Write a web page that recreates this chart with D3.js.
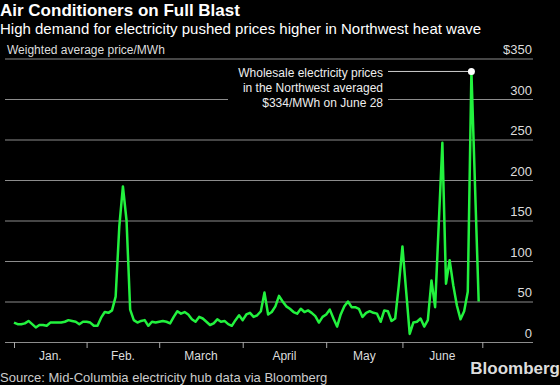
<!DOCTYPE html>
<html>
<head>
<meta charset="utf-8">
<script src="https://cdn.jsdelivr.net/npm/d3@7"></script>
<style>
  body { margin: 0; background: #000; }
  svg { display: block; font-family: "Liberation Sans", Arial, sans-serif; }
</style>
</head>
<body>
<div id="chart"></div>
<script>
// Mid-C weighted average price, $/MWh, one value per trading day (Jan - June)
var prices = [
  // Jan.
  24, 22, 22, 23, 26, 22, 18, 21, 21, 20, 24, 24, 24, 24, 25, 27, 26, 25, 22, 25,
  // Feb.
  25, 24, 20, 20, 30, 37, 36, 39, 56, 142, 192, 150, 40, 27, 24, 26, 27, 20, 25, 24,
  // March
  25, 26, 25, 23, 31, 38, 35, 37, 34, 28, 25, 31, 29, 25, 21, 23, 28, 25, 26, 22, 20, 27, 33,
  // April
  27, 34, 36, 31, 33, 38, 61, 34, 37, 44, 57, 50, 44, 41, 37, 35, 41, 37, 39, 36, 32, 24, 31,
  // May
  34, 40, 29, 19, 34, 44, 50, 43, 43, 41, 31, 36, 38, 36, 35, 25, 39, 38, 26, 29, 70,
  // June
  118, 64, 10, 24, 25, 29, 19, 27, 76, 43, 145, 246, 72, 101, 70, 45, 28, 38, 62, 334, 192, 50
];

// index of the first trading day of each month (last one = start of July)
var monthStarts = [0, 20, 40, 63, 86, 107, 129];
var monthLabels = ["Jan.", "Feb.", "March", "April", "May", "June"];

var yTicks = [0, 50, 100, 150, 200, 250, 300, 350];

var peakIndex = 126;
var noteLines = ["Wholesale electricity prices", "in the Northwest averaged", "$334/MWh on June 28"];

var svgWidth = 560;
var svgHeight = 385;

var svg = d3.select("#chart")
  .append("svg")
  .attr("width", svgWidth)
  .attr("height", svgHeight);

svg.append("rect")
  .attr("width", svgWidth)
  .attr("height", svgHeight)
  .attr("fill", "#000");

// titles
svg.append("text")
  .attr("x", 0)
  .attr("y", 15.5)
  .attr("fill", "#fff")
  .attr("font-size", 17)
  .attr("font-weight", "bold")
  .text("Air Conditioners on Full Blast");

svg.append("text")
  .attr("x", 0)
  .attr("y", 33.5)
  .attr("fill", "#fff")
  .attr("font-size", 15)
  .text("High demand for electricity pushed prices higher in Northwest heat wave");

svg.append("text")
  .attr("x", 7)
  .attr("y", 53.5)
  .attr("fill", "#ddd")
  .attr("font-size", 12)
  .text("Weighted average price/MWh");

// scales
var x = d3.scaleLinear()
  .domain([0, 129])
  .range([14, 482.3]);

var y = d3.scaleLinear()
  .domain([0, 350])
  .range([342, 58.5]);

var gridLeft = 5;
var gridRight = 533;

// y grid + labels
var yAxis = d3.axisRight(y)
  .tickValues(yTicks)
  .tickSize(-(gridRight - gridLeft))
  .tickFormat(d => d === 350 ? "$350" : d);

var yG = svg.append("g")
  .attr("transform", `translate(${gridRight}, 0)`)
  .call(yAxis);

yG.select(".domain").remove();
yG.selectAll(".tick line")
  .attr("stroke", "#8c8c8c")
  .attr("stroke-width", 1);
yG.selectAll(".tick text")
  .attr("x", -1)
  .attr("dy", -5)
  .attr("text-anchor", "end")
  .attr("fill", "#ddd")
  .attr("font-size", 13)
  .attr("font-family", "Liberation Sans, Arial, sans-serif");

// x axis month ticks
var xAxis = d3.axisBottom(x)
  .tickValues(monthStarts)
  .tickSize(6)
  .tickFormat("");

var xG = svg.append("g")
  .attr("transform", `translate(0, ${y(0)})`)
  .call(xAxis);

xG.select(".domain").remove();
xG.selectAll(".tick line")
  .attr("stroke", "#aaa")
  .attr("stroke-width", 1);

svg.append("g")
  .selectAll("text")
  .data(monthLabels)
  .enter()
  .append("text")
  .attr("x", (d, i) => (x(monthStarts[i]) + x(monthStarts[i + 1])) / 2)
  .attr("y", 360)
  .attr("text-anchor", "middle")
  .attr("fill", "#ddd")
  .attr("font-size", 12)
  .text(d => d);

// annotation (black box hides the gridline behind the text)
var noteRight = 383;
svg.append("rect")
  .attr("x", 228)
  .attr("y", 64)
  .attr("width", 160)
  .attr("height", 48)
  .attr("fill", "#000");

svg.append("g")
  .selectAll("text")
  .data(noteLines)
  .enter()
  .append("text")
  .attr("x", noteRight)
  .attr("y", (d, i) => 77 + i * 15)
  .attr("text-anchor", "end")
  .attr("fill", "#eee")
  .attr("font-size", 12)
  .text(d => d);

svg.append("line")
  .attr("x1", 388)
  .attr("x2", x(peakIndex))
  .attr("y1", y(prices[peakIndex]))
  .attr("y2", y(prices[peakIndex]))
  .attr("stroke", "#ccc")
  .attr("stroke-width", 1);

// price line
var line = d3.line()
  .x((d, i) => x(i))
  .y(d => y(d));

svg.append("path")
  .datum(prices)
  .attr("fill", "none")
  .attr("stroke", "#22f23e")
  .attr("stroke-width", 2.5)
  .attr("stroke-linejoin", "round")
  .attr("d", line);

svg.append("circle")
  .attr("cx", x(peakIndex))
  .attr("cy", y(prices[peakIndex]))
  .attr("r", 3.5)
  .attr("fill", "#fff");

// footer
svg.append("text")
  .attr("x", 0)
  .attr("y", 382)
  .attr("fill", "#ccc")
  .attr("font-size", 13)
  .text("Source: Mid-Columbia electricity hub data via Bloomberg");

svg.append("text")
  .attr("x", 560)
  .attr("y", 374)
  .attr("text-anchor", "end")
  .attr("fill", "#ddd")
  .attr("font-size", 17)
  .attr("font-weight", "bold")
  .text("Bloomberg");
</script>
</body>
</html>
